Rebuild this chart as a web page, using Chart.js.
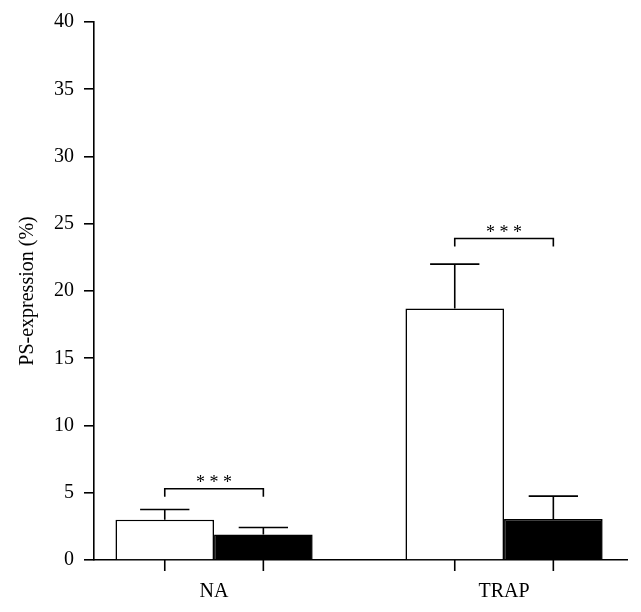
<!DOCTYPE html>
<html>
<head>
<meta charset="utf-8">
<script src="https://cdn.jsdelivr.net/npm/chart.js@4"></script>
<style>
  html, body { margin: 0; padding: 0; background: #fff; }
  #wrap { width: 641px; height: 612px; }
</style>
</head>
<body>
<div id="wrap"><canvas id="psChart" width="641" height="612"></canvas></div>
<script>
// dados
const categories = ["NA", "TRAP"];
const groupPos = [1, 3];
const whiteVals = [3.0, 18.7];
const whiteErr = [0.75, 3.3];
const blackVals = [1.9, 3.05];
const blackErr = [0.52, 1.7];
const bracketY = [5.3, 23.9];
const yTicks = [0, 5, 10, 15, 20, 25, 30, 35, 40];

const serif = "'Liberation Serif', 'DejaVu Serif', serif";

// barras de erro, marcas do eixo x e colchetes de significância
const extrasPlugin = {
  id: "extras",
  afterDatasetsDraw(chart) {
    const ctx = chart.ctx;
    const yScale = chart.scales.y;
    const bottom = chart.chartArea.bottom;
    const errs = [whiteErr, blackErr];
    const vals = [whiteVals, blackVals];
    ctx.save();
    ctx.strokeStyle = "#000";
    ctx.lineWidth = 1.6;
    errs.forEach((err, i) => {
      chart.getDatasetMeta(i).data.forEach((bar, j) => {
        const yTop = yScale.getPixelForValue(vals[i][j]);
        const yCap = yScale.getPixelForValue(vals[i][j] + err[j]);
        const half = bar.width / 4;
        ctx.beginPath();
        ctx.moveTo(bar.x, yTop);
        ctx.lineTo(bar.x, yCap);
        ctx.moveTo(bar.x - half, yCap);
        ctx.lineTo(bar.x + half, yCap);
        // marca do eixo x no centro da barra
        ctx.moveTo(bar.x, bottom);
        ctx.lineTo(bar.x, bottom + 11);
        ctx.stroke();
      });
    });
    const m0 = chart.getDatasetMeta(0).data;
    const m1 = chart.getDatasetMeta(1).data;
    ctx.fillStyle = "#000";
    ctx.font = "18px " + serif;
    ctx.textAlign = "center";
    ctx.textBaseline = "alphabetic";
    bracketY.forEach((v, j) => {
      const y = yScale.getPixelForValue(v);
      const x1 = m0[j].x, x2 = m1[j].x;
      ctx.beginPath();
      ctx.moveTo(x1, y + 8);
      ctx.lineTo(x1, y);
      ctx.lineTo(x2, y);
      ctx.lineTo(x2, y + 8);
      ctx.stroke();
      ctx.fillText("* * *", (x1 + x2) / 2, y - 1);
    });
    ctx.restore();
  }
};

const ctx = document.getElementById("psChart").getContext("2d");
const psChart = new Chart(ctx, {
  type: "bar",
  data: {
    datasets: [
      {
        data: whiteVals.map((v, i) => ({ x: groupPos[i], y: v })),
        backgroundColor: "#fff",
        borderColor: "#000",
        borderWidth: 1.6,
      },
      {
        data: blackVals.map((v, i) => ({ x: groupPos[i], y: v })),
        backgroundColor: "#000",
        borderColor: "#000",
        borderWidth: 1.6,
      },
    ],
  },
  options: {
    responsive: false,
    animation: false,
    devicePixelRatio: 1,
    categoryPercentage: 0.68,
    barPercentage: 1,
    layout: { padding: { top: 20, right: 14, left: 0, bottom: 0 } },
    scales: {
      x: {
        type: "linear",
        offset: false,
        min: 0.172,
        max: 3.848,
        afterFit: (s) => { s.height = 52; },
        afterBuildTicks: (s) => { s.ticks = groupPos.map((v) => ({ value: v })); },
        ticks: {
          color: "#000",
          font: { family: serif, size: 20 },
          padding: 20,
          callback: (v) => categories[groupPos.indexOf(v)],
        },
        grid: { display: true, offset: false, drawOnChartArea: false, drawTicks: false },
        border: { display: true, color: "#000", width: 1.6 },
      },
      y: {
        min: 0,
        max: 40,
        afterFit: (s) => { s.width = 94; },
        afterBuildTicks: (s) => { s.ticks = yTicks.map((v) => ({ value: v })); },
        ticks: {
          color: "#000",
          font: { family: serif, size: 20 },
          padding: 10,
        },
        grid: {
          drawOnChartArea: false,
          drawTicks: true,
          tickLength: 10,
          color: "#000",
          lineWidth: 1.6,
        },
        border: { display: true, color: "#000", width: 1.6 },
        title: {
          display: true,
          text: "PS-expression (%)",
          color: "#000",
          font: { family: serif, size: 20 },
          padding: { top: 16, bottom: 0 },
        },
      },
    },
    plugins: {
      legend: { display: false },
      tooltip: { enabled: false },
    },
  },
  plugins: [extrasPlugin],
});
</script>
</body>
</html>
